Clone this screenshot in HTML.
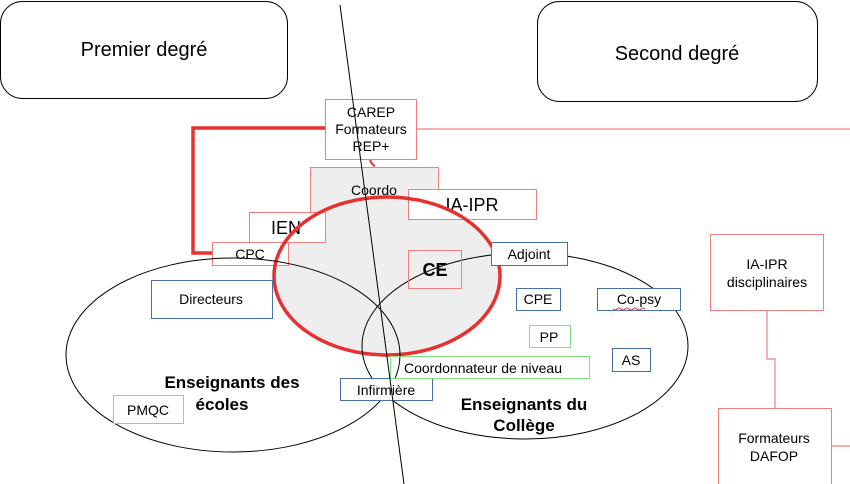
<!DOCTYPE html>
<html><head><meta charset="utf-8"><style>
html,body{margin:0;padding:0;background:#fff;}
svg{display:block;font-family:"Liberation Sans",Arial,sans-serif;}
</style></head><body>
<svg width="850" height="484" viewBox="0 0 850 484" xmlns="http://www.w3.org/2000/svg">
<rect x="0.5" y="1.5" width="287" height="97" rx="22" fill="#fff" stroke="#000" stroke-width="1"/>
<text x="144" y="56" font-size="20" text-anchor="middle">Premier degré</text>
<rect x="537.5" y="1.5" width="280" height="100" rx="22" fill="#fff" stroke="#000" stroke-width="1"/>
<text x="677" y="60" font-size="20" text-anchor="middle">Second degré</text>

<line x1="416" y1="129" x2="850" y2="129" stroke="#f08080" stroke-width="1.2"/>
<polyline points="325,128 193,128 193,253 212,253" fill="none" stroke="#e83030" stroke-width="3.5"/>

<rect x="310.5" y="167.5" width="128" height="70" fill="#eeeeee" stroke="#f08080"/>
<ellipse cx="387" cy="276" rx="113" ry="79" fill="#eeeeee"/>
<text x="374" y="195" font-size="14" text-anchor="middle">Coordo</text>
<path d="M370 160 Q372 165 375 166" stroke="#e83030" stroke-width="2" fill="none"/>

<rect x="249.5" y="212.5" width="76" height="30" fill="#fff" stroke="#f08080"/>
<text x="286" y="234" font-size="18" text-anchor="middle">IEN</text>
<rect x="408.5" y="189.5" width="128" height="30" fill="#fff" stroke="#f08080"/>
<text x="472" y="211" font-size="18" text-anchor="middle">IA-IPR</text>
<rect x="212.5" y="242.5" width="76" height="23" fill="#fff" stroke="#f08080"/>
<text x="250" y="259" font-size="14" text-anchor="middle">CPC</text>

<ellipse cx="387" cy="276" rx="113" ry="79" fill="none" stroke="#e83030" stroke-width="3.5"/>

<ellipse cx="233" cy="355" rx="167" ry="97" fill="none" stroke="#000" stroke-width="1"/>
<ellipse cx="525" cy="346" rx="163" ry="93" fill="none" stroke="#000" stroke-width="1"/>

<rect x="408.5" y="250.5" width="53" height="38" fill="none" stroke="#f08080"/>
<text x="435" y="276" font-size="18" font-weight="bold" text-anchor="middle">CE</text>

<rect x="325.5" y="99.5" width="91" height="60" fill="#fff" stroke="#f08080"/>
<text x="371" y="117" font-size="14" text-anchor="middle">CAREP</text>
<text x="371" y="134" font-size="14" text-anchor="middle">Formateurs</text>
<text x="371" y="151" font-size="14" text-anchor="middle">REP+</text>

<g fill="#fff" stroke="#4a6fa5">
<rect x="491.5" y="242.5" width="76" height="23"/>
<rect x="151.5" y="280.5" width="121" height="38"/>
<rect x="516.5" y="288.5" width="44" height="22"/>
<rect x="597.5" y="288.5" width="83" height="22"/>
<rect x="612.5" y="348.5" width="38" height="23"/>
</g>
<rect x="340.5" y="378.5" width="92" height="22" fill="#fff" stroke="#4a6fa5"/>
<g fill="none" stroke="#80e080">
<rect x="529.5" y="325.5" width="41" height="22" fill="#fff"/>
<rect x="390.5" y="356.5" width="199" height="22"/>
<rect x="113.5" y="395.5" width="70" height="28" fill="#fff"/>
</g>
<g font-size="14" text-anchor="middle">
<text x="529" y="259">Adjoint</text>
<text x="211" y="304">Directeurs</text>
<text x="538" y="304">CPE</text>
<text x="639" y="304">Co-psy</text>
<text x="631" y="365">AS</text>
<text x="549" y="342">PP</text>
<text x="483" y="373">Coordonnateur de niveau</text>
<text x="386" y="395">Infirmière</text>
<text x="148" y="415">PMQC</text>
</g>
<path d="M613 309 q2 2 4 0 q2 -2 4 0 q2 2 4 0 q2 -2 4 0 q2 2 4 0 q2 -2 4 0 q2 2 4 0 q2 -2 4 0" stroke="#d00" stroke-width="0.8" fill="none"/>

<g font-size="17" font-weight="bold" text-anchor="middle">
<text x="232" y="388">Enseignants des</text>
<text x="222" y="410">écoles</text>
<text x="524" y="410">Enseignants du</text>
<text x="524" y="431">Collège</text>
</g>

<line x1="340" y1="5" x2="404" y2="484" stroke="#000" stroke-width="1"/>

<polyline points="767,310 767,359 775,359 775,408" fill="none" stroke="#f08080" stroke-width="1.2"/>
<line x1="831" y1="446" x2="850" y2="446" stroke="#f08080" stroke-width="1.2"/>
<rect x="710.5" y="234.5" width="113" height="76" fill="#fff" stroke="#f08080"/>
<text x="767" y="269" font-size="14" text-anchor="middle">IA-IPR</text>
<text x="767" y="287" font-size="14" text-anchor="middle">disciplinaires</text>
<rect x="718.5" y="408.5" width="113" height="80" fill="#fff" stroke="#f08080"/>
<text x="774" y="443" font-size="14" text-anchor="middle">Formateurs</text>
<text x="774" y="461" font-size="14" text-anchor="middle">DAFOP</text>
</svg>
</body></html>
